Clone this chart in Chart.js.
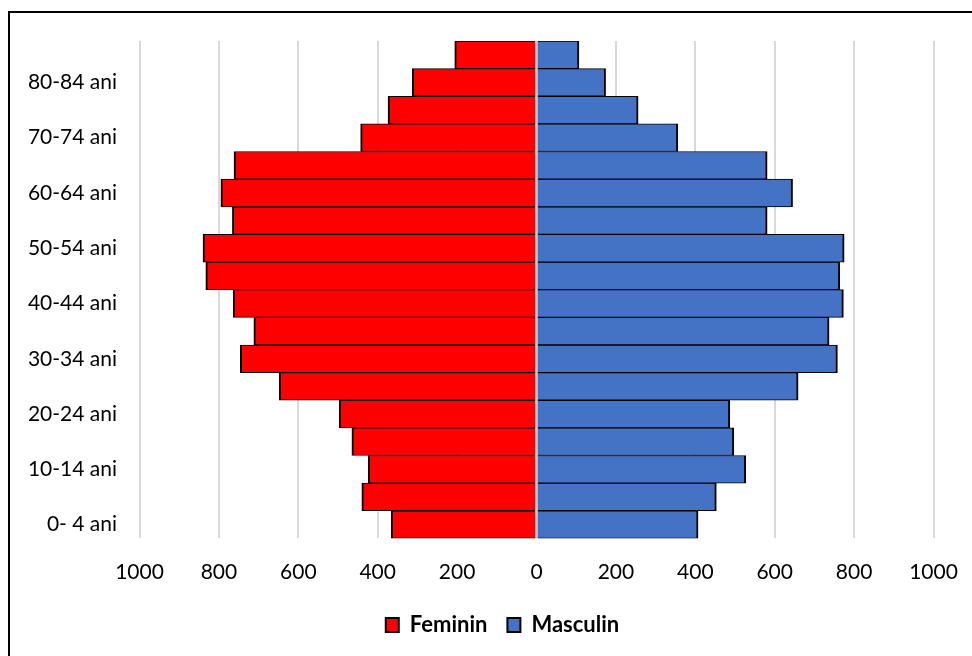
<!DOCTYPE html>
<html>
<head>
<meta charset="utf-8">
<script src="https://cdn.jsdelivr.net/npm/chart.js@4/dist/chart.umd.min.js"></script>
<style>
  html, body { margin: 0; padding: 0; background: #fff; }
  #wrap { position: relative; width: 972px; height: 656px; overflow: hidden; }
  #frame { position: absolute; left: 8px; top: 11px; width: 1000px; height: 700px;
           border: 2px solid #000; box-sizing: border-box; pointer-events: none; }
  canvas { position: absolute; left: 0; top: 0; }
</style>
</head>
<body>
<div id="wrap">
  <canvas id="pyramid" width="972" height="656"></canvas>
  <div id="frame"></div>
</div>
<script>
// Age groups, youngest first (drawn bottom to top)
const ageGroups = ["0- 4 ani", "5- 9 ani", "10-14 ani", "15-19 ani", "20-24 ani", "25-29 ani",
  "30-34 ani", "35-39 ani", "40-44 ani", "45-49 ani", "50-54 ani", "55-59 ani",
  "60-64 ani", "65-69 ani", "70-74 ani", "75-79 ani", "80-84 ani", "85+ ani"];

const femaleCounts = [366, 440, 424, 465, 497, 648, 746, 712, 764, 833, 840, 766, 795, 762, 443, 374, 313, 206];
const maleCounts   = [407, 453, 527, 497, 487, 659, 758, 737, 773, 764, 775, 581, 645, 581, 356, 256, 174, 107];

const axisTicks = [-1000, -800, -600, -400, -200, 0, 200, 400, 600, 800, 1000];

const FONT = "Lato, 'Open Sans', sans-serif";

// Zero line drawn over the bars
const zeroLine = {
  id: 'zeroLine',
  afterDatasetsDraw(chart) {
    const { ctx, chartArea, scales } = chart;
    const x = scales.x.getPixelForValue(0);
    ctx.save();
    ctx.strokeStyle = '#c8c8c8';
    ctx.lineWidth = 2;
    ctx.beginPath();
    ctx.moveTo(x, chartArea.top);
    ctx.lineTo(x, chartArea.bottom);
    ctx.stroke();
    ctx.restore();
  }
};

// Legend block sits a little right of the canvas centre
const legendShift = {
  id: 'legendShift',
  afterLayout(chart) {
    const lg = chart.legend;
    if (!lg) return;
    const d = 502.5 - (lg.left + lg.right) / 2;
    lg.left += d;
    lg.right += d;
  }
};

new Chart(document.getElementById('pyramid'), {
  type: 'bar',
  data: {
    labels: ageGroups,
    datasets: [
      {
        label: 'Feminin',
        data: femaleCounts.map(v => -v),
        backgroundColor: '#ff0000',
        borderColor: '#000000',
        borderWidth: { top: 1, bottom: 1, left: 2, right: 2 },
        borderSkipped: 'start',
        barPercentage: 1,
        categoryPercentage: 1
      },
      {
        label: 'Masculin',
        data: maleCounts,
        backgroundColor: '#4472c4',
        borderColor: '#000000',
        borderWidth: { top: 1, bottom: 1, left: 2, right: 2 },
        borderSkipped: 'start',
        barPercentage: 1,
        categoryPercentage: 1
      }
    ]
  },
  options: {
    indexAxis: 'y',
    responsive: false,
    devicePixelRatio: 1,
    animation: false,
    layout: { padding: { top: 41, right: 38.5, bottom: 10, left: 0 } },
    scales: {
      x: {
        stacked: true,
        min: -1000,
        max: 1000,
        afterBuildTicks(scale) { scale.ticks = axisTicks.map(v => ({ value: v })); },
        afterFit(scale) {
          scale.height = 55.6;
          scale.paddingLeft = 0;
          scale.paddingRight = 0;
        },
        grid: { color: '#d9d9d9', lineWidth: 2, drawTicks: false },
        border: { display: false },
        ticks: {
          padding: 21,
          color: '#000',
          font: { family: FONT, size: 21 },
          callback: v => String(Math.abs(v))
        }
      },
      y: {
        stacked: true,
        reverse: true,
        afterFit(scale) { scale.width = 139.5; },
        grid: { display: false, drawTicks: false },
        border: { display: false },
        ticks: {
          autoSkip: false,
          padding: 22.5,
          color: '#000',
          font: { family: FONT, size: 21 },
          callback(value, index) { return index % 2 === 0 ? ageGroups[index] : ''; }
        }
      }
    },
    plugins: {
      tooltip: { enabled: false },
      legend: {
        position: 'bottom',
        labels: {
          color: '#000',
          font: { family: FONT, size: 22, weight: 'bold' },
          boxWidth: 13,
          boxHeight: 14,
          padding: 20,
          generateLabels(chart) {
            return chart.data.datasets.map((ds, i) => ({
              text: ds.label,
              fillStyle: ds.backgroundColor,
              strokeStyle: '#000',
              lineWidth: 2,
              hidden: false,
              datasetIndex: i
            }));
          }
        }
      }
    }
  },
  plugins: [zeroLine, legendShift]
});
</script>
</body>
</html>
